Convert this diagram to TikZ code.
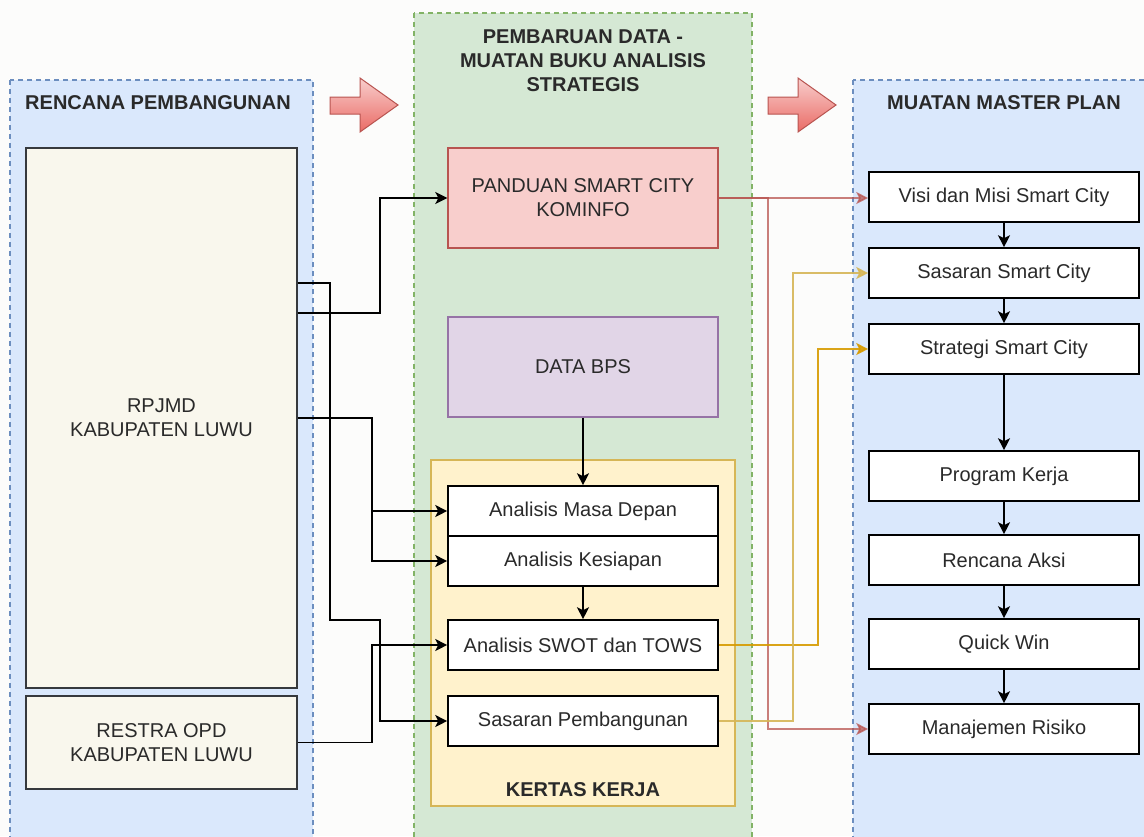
\documentclass[tikz,border=0pt]{standalone}
\usepackage{fontspec}
\setmainfont{Liberation Sans}
\usetikzlibrary{arrows.meta,calc}
\definecolor{bgc}{HTML}{FCFCFB}
\definecolor{bluef}{HTML}{DAE8FC}
\definecolor{blued}{HTML}{6C8EBF}
\definecolor{greenf}{HTML}{D5E8D4}
\definecolor{greend}{HTML}{82B366}
\definecolor{yelf}{HTML}{FFF2CC}
\definecolor{yeld}{HTML}{D6B656}
\definecolor{redf}{HTML}{F8CECC}
\definecolor{redd}{HTML}{B85450}
\definecolor{redg}{HTML}{EA6B66}
\definecolor{purf}{HTML}{E1D5E7}
\definecolor{purd}{HTML}{9673A6}
\definecolor{beigef}{HTML}{F9F7ED}
\definecolor{darkd}{HTML}{36393D}
\definecolor{orad}{HTML}{D79B00}
\definecolor{txt}{HTML}{2A2A2A}
\tikzset{
  every node/.style={font=\fontsize{20}{24}\selectfont, text=txt, align=center, inner sep=0pt},
  hdr/.style={font=\fontsize{20}{24}\selectfont\bfseries},
  cont/.style={dash pattern=on 5pt off 4pt, line width=1.3pt},
  wbox/.style={draw=black, fill=white, line width=1.6pt, minimum width=270pt, minimum height=50pt},
  conn/.style={line width=1.6pt, -{Stealth[length=12pt,width=12pt,inset=3pt]}},
  bigarrow/.style={draw=redd, line width=1pt, top color=redf, bottom color=redg}
}
\begin{document}
\begin{tikzpicture}[x=1pt,y=-1pt]
\useasboundingbox (0,0) rectangle (1144,836);
\clip (0,0) rectangle (1144,836);
\fill[bgc] (0,0) rectangle (1144,836);
% containers
\draw[cont, draw=blued, fill=bluef] (10,80) rectangle (313,850);
\draw[cont, draw=greend, fill=greenf] (414,13) rectangle (752,850);
\draw[cont, draw=blued, fill=bluef] (853,80) rectangle (1160,850);
\node[hdr] (hleft) at (158,103) {RENCANA PEMBANGUNAN};
\node[hdr] (hmid) at (583,61) {PEMBARUAN DATA -\\MUATAN BUKU ANALISIS\\STRATEGIS};
\node[hdr] (hright) at (1004,103) {MUATAN MASTER PLAN};
% block arrows
\path[bigarrow] (330,97) -- (360,97) -- (360,78) -- (398,105) -- (360,132) -- (360,114) -- (330,114) -- cycle;
\path[bigarrow] (768,97) -- (798,97) -- (798,78) -- (836,105) -- (798,132) -- (798,114) -- (768,114) -- cycle;
% left boxes
\node[draw=darkd, fill=beigef, line width=1.4pt, minimum width=271pt, minimum height=540pt] (rpjmd) at (161.5,418) {RPJMD\\KABUPATEN LUWU};
\node[draw=darkd, fill=beigef, line width=1.4pt, minimum width=271pt, minimum height=93pt] (restra) at (161.5,742.5) {RESTRA OPD\\KABUPATEN LUWU};
% middle
\node[draw=redd, fill=redf, line width=1.4pt, minimum width=270pt, minimum height=100pt] (pand) at (583,198) {PANDUAN SMART CITY\\KOMINFO};
\node[draw=purd, fill=purf, line width=1.4pt, minimum width=270pt, minimum height=100pt] (bps) at (583,367) {DATA BPS};
\draw[draw=yeld, fill=yelf, line width=1.4pt] (431,460) rectangle (735,806);
\node[hdr] (kk) at (583,790) {KERTAS KERJA};
\node[wbox] (amd) at (583,511) {Analisis Masa Depan};
\node[wbox] (ak) at (583,561) {Analisis Kesiapan};
\node[wbox] (swot) at (583,645) {Analisis SWOT dan TOWS};
\node[wbox] (sasp) at (583,721) {Sasaran Pembangunan};
% right
\node[wbox] (visi) at (1004,197) {Visi dan Misi Smart City};
\node[wbox] (sas) at (1004,273) {Sasaran Smart City};
\node[wbox] (strat) at (1004,349) {Strategi Smart City};
\node[wbox] (prog) at (1004,476) {Program Kerja};
\node[wbox] (aksi) at (1004,560) {Rencana Aksi};
\node[wbox] (quick) at (1004,644) {Quick Win};
\node[wbox] (manaj) at (1004,729) {Manajemen Risiko};
% left connectors
\draw[conn] (rpjmd.east |- {(0,313)}) -- (380,313) |- (pand.west);
\draw[conn] (rpjmd.east |- {(0,283)}) -- (330,283) -- (330,620) -- (380,620) |- (sasp.west);
\draw[conn] (rpjmd.east) -- (372,418) |- (amd.west);
\draw[conn] (372,500) |- (ak.west);
\draw[conn] (restra.east) -- (372,742.5) |- (swot.west);
% middle vertical
\draw[conn] (bps.south) -- (amd.north);
\draw[conn] (ak.south) -- (swot.north);
% coloured connectors
\draw[conn, draw=redd, opacity=0.75] (pand.east) -- (visi.west |- pand.east);
\draw[conn, draw=redd, opacity=0.75] (pand.east) -- (768,198) |- (manaj.west);
\draw[conn, draw=orad, opacity=0.9] (swot.east) -- (818,645) |- (strat.west);
\draw[conn, draw=yeld, opacity=0.9] (sasp.east) -- (793,721) |- (sas.west);
% right column
\draw[conn] (visi.south) -- (sas.north);
\draw[conn] (sas.south) -- (strat.north);
\draw[conn] (strat.south) -- (prog.north);
\draw[conn] (prog.south) -- (aksi.north);
\draw[conn] (aksi.south) -- (quick.north);
\draw[conn] (quick.south) -- (manaj.north);
\end{tikzpicture}
\end{document}
